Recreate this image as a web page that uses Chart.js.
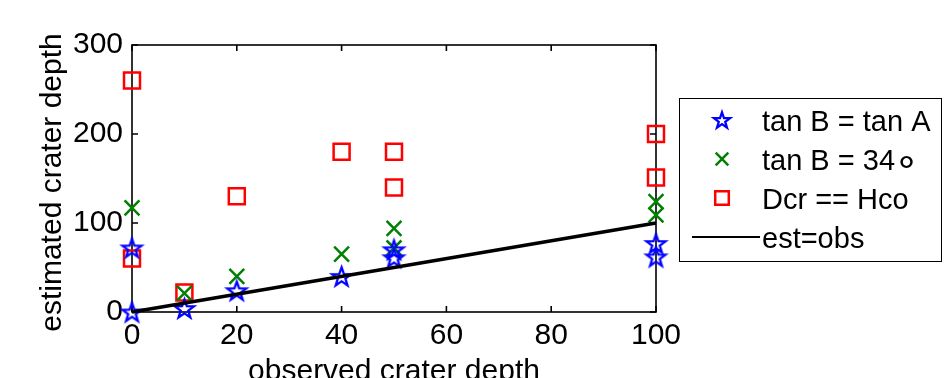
<!DOCTYPE html>
<html>
<head>
<meta charset="utf-8">
<script src="https://cdn.jsdelivr.net/npm/chart.js@4/dist/chart.umd.min.js"></script>
<style>
  html, body { margin: 0; padding: 0; background: #fff; }
  #wrap { width: 946px; height: 378px; }
</style>
</head>
<body>
<div id="wrap"><canvas id="craterChart" width="946" height="378"></canvas></div>
<script>
const xTicks = [0, 20, 40, 60, 80, 100];
const yTicks = [0, 100, 200, 300];

// observed vs estimated crater depth, one pair of arrays per method
const obsTanA = [0, 0, 10, 20, 40, 50, 50, 100, 100];
const estTanA = [0, 72, 4, 24, 40, 70, 61, 77, 62];
const obs34 = [0, 10, 20, 40, 50, 50, 100, 100];
const est34 = [117, 21, 40, 65, 94, 72, 124, 109];
const obsDcr = [0, 0, 10, 20, 40, 50, 50, 100, 100];
const estDcr = [260, 60, 22, 130, 180, 180, 140, 200, 151];
const refLine = [0, 100];

const seriesLabels = ['tan B = tan A', 'tan B = 34\u2218', 'Dcr == Hco', 'est=obs'];
const xTitle = 'observed crater depth';
const yTitle = 'estimated crater depth';

const FONT = "'Liberation Sans', Arial, sans-serif";

function pairs(xs, ys) {
  return xs.map((x, i) => ({ x: x, y: ys[i] }));
}

// outlined five-point star, used as a point image
function pentagram(R, color, lw) {
  const size = Math.ceil(2 * R + 2 * lw + 2);
  const c = document.createElement('canvas');
  c.width = size;
  c.height = size;
  const g = c.getContext('2d');
  const cx = size / 2, cy = size / 2 + R * 0.09;
  g.strokeStyle = color;
  g.lineWidth = lw;
  g.lineJoin = 'miter';
  g.beginPath();
  for (let i = 0; i < 10; i++) {
    const r = i % 2 ? R * 0.40 : R;
    const a = -Math.PI / 2 + i * Math.PI / 5;
    const px = cx + r * Math.cos(a), py = cy + r * Math.sin(a);
    if (i === 0) g.moveTo(px, py); else g.lineTo(px, py);
  }
  g.closePath();
  g.stroke();
  return c;
}

const starImg = pentagram(10, '#0000ff', 2.3);
const legendStar = pentagram(8.5, '#0000ff', 2.3);

// legend text; a trailing ring operator is drawn a bit larger
function legendText(ctx, text, x, y) {
  ctx.font = '29px ' + FONT;
  if (text.endsWith('\u2218')) {
    const head = text.slice(0, -1);
    ctx.fillText(head, x, y);
    const w = ctx.measureText(head).width;
    ctx.font = '40px ' + FONT;
    ctx.fillText('\u2218', x + w - 1, y + 2);
  } else {
    ctx.fillText(text, x, y);
  }
}

const frame = {
  id: 'frame',
  beforeDatasetsDraw(chart) {
    const { ctx, chartArea: a, scales } = chart;
    ctx.save();
    ctx.strokeStyle = '#000';
    ctx.lineWidth = 1.6;
    ctx.strokeRect(a.left, a.top, a.right - a.left, a.bottom - a.top);
    ctx.beginPath();
    const tl = 6;
    xTicks.forEach(v => {
      const px = scales.x.getPixelForValue(v);
      ctx.moveTo(px, a.bottom); ctx.lineTo(px, a.bottom - tl);
      ctx.moveTo(px, a.top); ctx.lineTo(px, a.top + tl);
    });
    yTicks.forEach(v => {
      const py = scales.y.getPixelForValue(v);
      ctx.moveTo(a.left, py); ctx.lineTo(a.left + tl, py);
      ctx.moveTo(a.right, py); ctx.lineTo(a.right - tl, py);
    });
    ctx.stroke();

    // axis titles
    ctx.fillStyle = '#000';
    ctx.font = '30px ' + FONT;
    ctx.textAlign = 'center';
    ctx.textBaseline = 'alphabetic';
    ctx.fillText(xTitle, (a.left + a.right) / 2, 380);
    ctx.translate(61, (a.top + a.bottom) / 2 + 4);
    ctx.rotate(-Math.PI / 2);
    ctx.fillText(yTitle, 0, 0);
    ctx.restore();
  },
  afterDraw(chart) {
    const ctx = chart.ctx;
    const box = { left: 679.5, top: 98.5, width: 262, height: 163 };
    const rows = [120, 159, 198, 237];
    const mx = 722, tx = 762;
    ctx.save();
    ctx.fillStyle = '#fff';
    ctx.fillRect(box.left, box.top, box.width, box.height);
    ctx.strokeStyle = '#000';
    ctx.lineWidth = 1;
    ctx.strokeRect(box.left, box.top, box.width, box.height);

    chart.data.datasets.forEach((ds, i) => {
      const y = rows[i];
      if (ds.type === 'line') {
        ctx.strokeStyle = ds.borderColor;
        ctx.lineWidth = 2;
        ctx.beginPath();
        ctx.moveTo(692, y);
        ctx.lineTo(760, y);
        ctx.stroke();
      } else {
        ctx.strokeStyle = ds.borderColor;
        ctx.fillStyle = 'rgba(0,0,0,0)';
        ctx.lineWidth = ds.borderWidth;
        Chart.helpers.drawPoint(ctx, {
          pointStyle: ds.pointStyle === starImg ? legendStar : ds.pointStyle,
          radius: ds.pointRadius * 0.85,
          rotation: 0,
          borderWidth: ds.borderWidth
        }, mx, y);
      }
      ctx.fillStyle = '#000';
      ctx.textAlign = 'left';
      ctx.textBaseline = 'middle';
      legendText(ctx, ds.label, tx, y + 3);
    });
    ctx.restore();
  }
};

const tickFont = { family: FONT, size: 30 };

new Chart(document.getElementById('craterChart'), {
  type: 'scatter',
  data: {
    datasets: [
      {
        label: seriesLabels[0],
        data: pairs(obsTanA, estTanA),
        pointStyle: starImg,
        pointRadius: 10,
        borderColor: '#0000ff',
        backgroundColor: 'rgba(0,0,0,0)',
        borderWidth: 2.5,
        clip: false,
        order: 1
      },
      {
        label: seriesLabels[1],
        data: pairs(obs34, est34),
        pointStyle: 'crossRot',
        pointRadius: 10.5,
        borderColor: '#008000',
        backgroundColor: 'rgba(0,0,0,0)',
        borderWidth: 2.5,
        clip: false,
        order: 2
      },
      {
        label: seriesLabels[2],
        data: pairs(obsDcr, estDcr),
        pointStyle: 'rect',
        pointRadius: 11.3,
        borderColor: '#ff0000',
        backgroundColor: 'rgba(0,0,0,0)',
        borderWidth: 2.5,
        clip: false,
        order: 3
      },
      {
        type: 'line',
        label: seriesLabels[3],
        data: pairs(refLine, refLine),
        borderColor: '#000000',
        borderWidth: 3.5,
        pointRadius: 0,
        fill: false,
        clip: false,
        order: 0
      }
    ]
  },
  options: {
    responsive: false,
    animation: false,
    events: [],
    layout: { padding: { left: 0, top: 45, right: 290, bottom: 0 } },
    plugins: {
      legend: { display: false },
      tooltip: { enabled: false }
    },
    scales: {
      x: {
        type: 'linear',
        min: 0,
        max: 100,
        afterBuildTicks: s => { s.ticks = xTicks.map(v => ({ value: v })); },
        afterFit: s => { s.height = 66; },
        grid: { display: false, drawTicks: false },
        border: { display: false },
        ticks: { font: tickFont, color: '#000', padding: 6, maxRotation: 0, autoSkip: false }
      },
      y: {
        type: 'linear',
        min: 0,
        max: 300,
        afterBuildTicks: s => { s.ticks = yTicks.map(v => ({ value: v })); },
        afterFit: s => { s.width = 132; },
        grid: { display: false, drawTicks: false },
        border: { display: false },
        ticks: { font: tickFont, color: '#000', padding: 9, autoSkip: false }
      }
    }
  },
  plugins: [frame]
});
</script>
</body>
</html>
